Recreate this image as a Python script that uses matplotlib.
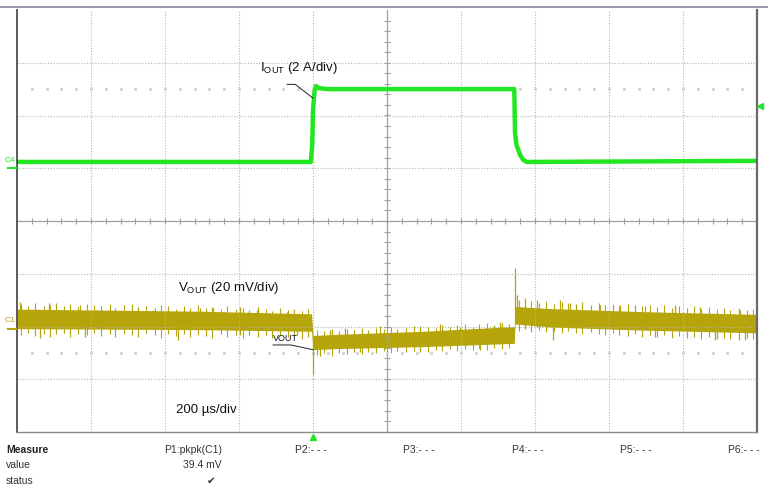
import numpy as np
import matplotlib.pyplot as plt
from matplotlib.lines import Line2D

plt.rcParams['font.family'] = ['Liberation Sans', 'DejaVu Sans']
plt.rcParams['mathtext.fontset'] = 'custom'
plt.rcParams['mathtext.rm'] = 'Liberation Sans'

W, H = 773, 493

# ---- data (screen divisions: x 0..10 = time, y 0..8) ----
iout_t = [0.0, 3.97, 3.99, 4.00, 4.02, 4.04, 4.08, 4.20, 6.72, 6.73, 6.75, 6.80, 6.84, 6.89, 7.00, 10.0]
iout_y = [5.12, 5.12, 5.45, 6.10, 6.45, 6.56, 6.52, 6.50, 6.50, 5.67, 5.44, 5.25, 5.16, 5.12, 5.12, 5.14]

# VOUT dense band (upper / lower edge)
vout_t = [0.0, 2.5, 3.98, 4.0, 4.3, 5.5, 6.72, 6.73, 7.2, 8.5, 10.0]
vout_hi = [2.33, 2.29, 2.24, 1.83, 1.85, 1.91, 2.00, 2.38, 2.34, 2.28, 2.23]
vout_lo = [1.96, 1.94, 1.91, 1.56, 1.58, 1.62, 1.68, 2.05, 1.99, 1.93, 1.88]

# large noise spikes
spike_t = [0.04, 0.31, 0.43, 0.85, 0.92, 1.08, 1.64, 1.84, 2.18, 2.47, 2.65, 3.01, 3.24, 3.65, 3.78,
           4.00, 4.09, 4.23, 4.43, 4.64, 4.91, 5.45, 5.72, 5.99, 6.26, 6.53,
           6.73, 6.76, 6.86, 7.03, 7.24, 7.34, 7.47, 7.88, 8.15, 8.49, 8.62, 8.89, 9.23, 9.43, 9.77, 9.84]
spike_hi = [2.46, 2.20, 2.45, 2.41, 2.20, 2.31, 2.35, 2.31, 2.20, 2.35, 2.35, 2.37, 2.31, 2.27, 2.15,
            1.80, 1.80, 1.93, 1.97, 1.80, 2.01, 2.01, 2.05, 1.99, 1.85, 2.08,
            3.11, 2.60, 2.54, 2.50, 2.20, 2.50, 2.45, 2.41, 2.41, 2.39, 2.20, 2.41, 2.37, 2.10, 2.31, 2.10]
spike_lo = [2.00, 1.78, 2.00, 1.98, 1.80, 1.98, 1.95, 1.95, 1.74, 1.95, 1.95, 1.84, 1.95, 1.93, 1.84,
            1.08, 1.44, 1.62, 1.62, 1.52, 1.62, 1.52, 1.63, 1.65, 1.56, 1.70,
            2.05, 2.05, 2.00, 2.00, 1.74, 2.00, 2.00, 1.97, 1.97, 1.95, 1.80, 1.95, 1.93, 1.74, 1.91, 1.74]

# fine noise hairs on the band edges
hair_t = [0.05, 0.15, 0.24, 0.36, 0.45, 0.53, 0.64, 0.72, 0.83, 0.95, 1.04, 1.13, 1.25, 1.33, 1.44,
          1.55, 1.63, 1.74, 1.86, 1.95, 2.04, 2.15, 2.26, 2.34, 2.45, 2.56, 2.64, 2.75, 2.84, 2.96,
          3.05, 3.14, 3.25, 3.36, 3.44, 3.55, 3.66, 3.74, 3.85, 3.93,
          4.06, 4.15, 4.26, 4.35, 4.46, 4.55, 4.66, 4.74, 4.85, 4.96, 5.05, 5.14, 5.25, 5.36, 5.44,
          5.55, 5.66, 5.74, 5.85, 5.94, 6.05, 6.16, 6.24, 6.35, 6.44, 6.56, 6.65,
          6.78, 6.87, 6.95, 7.06, 7.15, 7.26, 7.36, 7.45, 7.55, 7.64, 7.75, 7.86, 7.94, 8.05, 8.14,
          8.25, 8.35, 8.44, 8.56, 8.65, 8.74, 8.85, 8.94, 9.05, 9.15, 9.24, 9.35, 9.46, 9.55, 9.64,
          9.75, 9.86, 9.95]
hair_hi = [2.43, 2.39, 2.44, 2.38, 2.41, 2.45, 2.39, 2.42, 2.37, 2.43, 2.40, 2.38, 2.42, 2.36, 2.40,
           2.43, 2.37, 2.39, 2.36, 2.41, 2.38, 2.34, 2.39, 2.36, 2.40, 2.35, 2.37, 2.33, 2.38, 2.34,
           2.36, 2.32, 2.37, 2.33, 2.30, 2.35, 2.32, 2.34, 2.30, 2.33,
           1.93, 1.91, 1.96, 1.92, 1.95, 1.93, 1.98, 1.94, 1.97, 1.95, 1.99, 1.96, 1.98, 2.01, 1.97,
           2.00, 1.98, 2.03, 1.99, 2.02, 2.05, 2.00, 2.04, 2.06, 2.02, 2.07, 2.05,
           2.51, 2.46, 2.49, 2.45, 2.48, 2.43, 2.47, 2.44, 2.42, 2.46, 2.41, 2.44, 2.40, 2.43, 2.39,
           2.42, 2.40, 2.38, 2.41, 2.37, 2.40, 2.36, 2.39, 2.35, 2.38, 2.34, 2.37, 2.33, 2.36, 2.32,
           2.35, 2.31, 2.34]
hair_lo = [1.84, 1.88, 1.82, 1.86, 1.80, 1.85, 1.87, 1.81, 1.86, 1.83, 1.88, 1.82, 1.85, 1.80, 1.86,
           1.84, 1.81, 1.87, 1.83, 1.79, 1.85, 1.82, 1.86, 1.80, 1.84, 1.82, 1.78, 1.85, 1.81, 1.84,
           1.79, 1.83, 1.80, 1.84, 1.78, 1.82, 1.80, 1.83, 1.77, 1.81,
           1.46, 1.49, 1.45, 1.50, 1.47, 1.51, 1.48, 1.52, 1.49, 1.53, 1.50, 1.54, 1.51, 1.53, 1.56,
           1.52, 1.55, 1.53, 1.57, 1.54, 1.58, 1.56, 1.59, 1.55, 1.60, 1.57, 1.59,
           1.92, 1.95, 1.90, 1.94, 1.89, 1.92, 1.87, 1.91, 1.88, 1.85, 1.89, 1.86, 1.83, 1.87, 1.84,
           1.82, 1.86, 1.81, 1.84, 1.80, 1.83, 1.79, 1.82, 1.78, 1.81, 1.77, 1.80, 1.76, 1.79, 1.77,
           1.75, 1.78, 1.76]

meas_labels = ["P1:pkpk(C1)", "P2:- - -", "P3:- - -", "P4:- - -", "P5:- - -", "P6:- - -"]

GREEN = '#22e622'
OLIVE = '#b5a50a'


def fx(px):
    return px / W


def fy(py):
    return 1 - py / H


fig = plt.figure(figsize=(W / 100, H / 100), dpi=100)
fig.patch.set_facecolor('white')
ax = fig.add_axes([fx(17), fy(432), 740 / W, 422 / H])
ax.set_xlim(0, 10)
ax.set_ylim(0, 8)
ax.set_xticks([])
ax.set_yticks([])
ax.spines['top'].set_visible(False)
ax.spines['left'].set_color('#404040')
ax.spines['left'].set_linestyle((0, (4, 1)))
ax.spines['left'].set_linewidth(1.2)
ax.spines['right'].set_color('#6a6a6a')
ax.spines['right'].set_linewidth(1.6)
ax.spines['bottom'].set_color('#8a8a8a')
ax.spines['bottom'].set_linewidth(1.0)

# graticule
for gx in range(1, 10):
    if gx != 5:
        ax.axvline(gx, color='#b4b4b4', lw=0.8, ls=(0, (1, 1.5)))
for gy in range(1, 8):
    if gy != 4:
        ax.axhline(gy, color='#b4b4b4', lw=0.8, ls=(0, (1, 1.5)))
ax.axhline(4, color='#a0a0a0', lw=0.9)
ax.axvline(5, color='#a0a0a0', lw=0.9)
minor = np.arange(0.2, 10, 0.2)
ax.vlines(minor, 4 - 0.06, 4 + 0.06, color='#a0a0a0', lw=0.8)
ax.hlines(np.arange(0.2, 8, 0.2), 5 - 0.045, 5 + 0.045, color='#a0a0a0', lw=0.8)
# faint cursor dotted rows
ax.plot(minor, [6.5] * len(minor), ls='none', marker='s', ms=1.2, color='#d4d4d4')
ax.plot(minor, [1.5] * len(minor), ls='none', marker='s', ms=1.2, color='#d4d4d4')

# VOUT trace
ax.fill_between(vout_t, vout_lo, vout_hi, color=OLIVE, lw=0)
ax.vlines(hair_t, hair_lo, hair_hi, color=OLIVE, lw=0.8)
ax.vlines(spike_t, spike_lo, spike_hi, color=OLIVE, lw=0.9)

# IOUT trace
ax.plot(iout_t, iout_y, color=GREEN, lw=3.2, solid_joinstyle='round')

# annotations
ax.text(3.28, 6.90, r'I$_\mathregular{OUT}$ (2 A/div)', fontsize=9.5, va='center', color='#111111')
ax.plot([3.65, 3.76, 4.0], [6.59, 6.59, 6.33], color='#222222', lw=0.7)
ax.text(2.18, 2.73, r'V$_\mathregular{OUT}$ (20 mV/div)', fontsize=9.5, va='center', color='#111111')
ax.text(2.15, 0.42, '200 µs/div', fontsize=9.5, va='center', color='#111111')
ax.text(3.46, 1.77, 'VOUT', fontsize=6.5, va='center', color='#111111')
ax.plot([3.46, 3.70, 4.0], [1.65, 1.65, 1.56], color='#222222', lw=0.7)

# channel markers
fig.text(fx(5), fy(160), 'C4', fontsize=6, color=GREEN, va='center')
fig.add_artist(Line2D([fx(8), fx(16)], [fy(168), fy(168)], color=GREEN, lw=1.5))
fig.text(fx(5), fy(321), 'C1', fontsize=6, color=OLIVE, va='center')
fig.add_artist(Line2D([fx(8), fx(16)], [fy(329), fy(329)], color=OLIVE, lw=1.5))
fig.add_artist(Line2D([fx(760)], [fy(106)], marker='<', ms=5, color=GREEN, ls='none'))
fig.add_artist(Line2D([fx(313)], [fy(437)], marker='^', ms=5, color=GREEN, ls='none'))
fig.add_artist(Line2D([0, fx(767)], [fy(7), fy(7)], color='#9a9aaa', lw=1.4))

# measure table
fs = 7.5
fig.text(fx(6), fy(450), 'Measure', fontsize=fs, fontweight='bold', color='#222222', va='center')
fig.text(fx(6), fy(465), 'value', fontsize=fs, color='#333333', va='center')
fig.text(fx(6), fy(481), 'status', fontsize=fs, color='#333333', va='center')
fig.text(fx(222), fy(450), meas_labels[0], fontsize=fs, color='#333333', va='center', ha='right')
fig.text(fx(222), fy(465), '39.4 mV', fontsize=fs, color='#333333', va='center', ha='right')
fig.text(fx(211), fy(481), '\u2714', fontsize=fs, color='#333333', va='center', ha='center',
         family='DejaVu Sans')
for px, lab in zip([295, 403, 512, 620, 728], meas_labels[1:]):
    fig.text(fx(px), fy(450), lab, fontsize=fs, color='#333333', va='center')

fig.savefig('out.png', dpi=100)
